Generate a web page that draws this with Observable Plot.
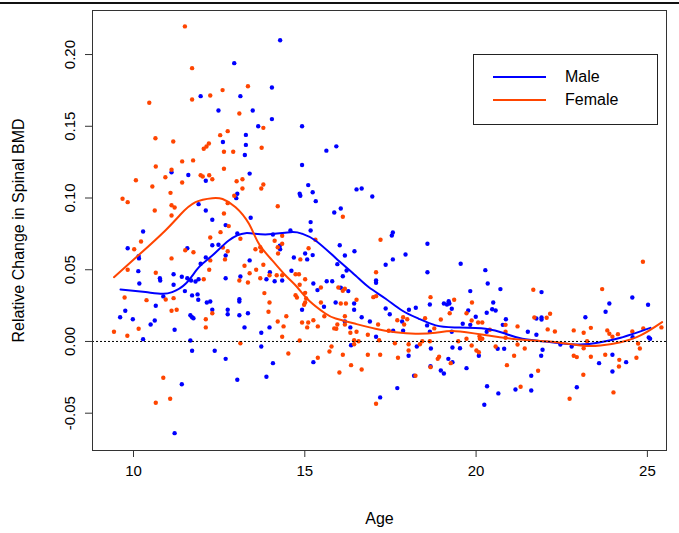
<!DOCTYPE html>
<html>
<head>
<meta charset="utf-8">
<script src="https://cdn.jsdelivr.net/npm/d3@7"></script>
<script src="https://cdn.jsdelivr.net/npm/@observablehq/plot@0.6"></script>
<style>
  html, body { margin: 0; padding: 0; background: #fff; }
  #wrap { position: relative; width: 679px; height: 533px; font-family: "Liberation Sans", Arial, Helvetica, sans-serif; }
  #topline { position: absolute; left: 0; top: 2px; width: 679px; height: 2px; background: #111; }
  #legend { position: absolute; left: 473px; top: 54px; width: 183px; height: 69px; border: 1px solid #222; background: #fff; }
  .lg { position: absolute; left: 0; width: 183px; height: 20px; }
  .lg .ln { position: absolute; left: 19px; top: 9px; width: 53px; height: 2px; }
  .lg .tx { position: absolute; left: 91px; top: 0px; font-size: 16px; line-height: 19px; color: #000; }
</style>
</head>
<body>
<div id="wrap">
  <div id="chart"></div>
  <div id="topline"></div>
  <div id="legend"></div>
</div>
<script>
const xTicks = [10, 15, 20, 25];
const yTicks = [-0.05, 0, 0.05, 0.10, 0.15, 0.20];
const seriesNames = ["Male", "Female"];
const seriesColors = ["#0000ff", "#ff4500"];

const maleAge = [11.96,14.28,12.94,14.04,13.12,12.48,13.48,14.04,13.64,14.92,13.28,12.61,13.28,13.25,15.63,15.92,11.11,11.60,12.11,11.90,12.11,12.30,10.28,9.83,12.30,11.57,10.15,10.16,12.11,11.96,10.14,11.17,11.41,10.77,10.78,11.57,11.68,11.81,11.90,10.17,11.17,11.50,10.87,11.71,11.87,11.89,14.92,13.39,13.00,13.03,15.10,14.85,14.87,15.23,15.32,15.86,13.42,15.17,12.69,13.03,15.17,14.58,14.07,12.48,14.27,14.28,15.01,15.23,12.69,14.68,15.07,13.39,13.98,14.61,13.88,12.69,13.12,14.12,14.34,15.25,15.64,15.80,15.37,13.09,16.51,16.66,16.97,16.05,17.54,17.57,18.58,16.02,16.45,16.17,17.94,17.57,17.36,15.95,16.22,18.58,16.11,17.08,17.08,16.05,16.27,19.20,10.65,9.76,9.61,9.98,10.50,10.62,10.28,11.20,11.66,11.71,11.75,12.14,12.24,12.30,11.66,11.71,12.37,11.41,11.20,13.09,12.75,12.75,13.09,13.34,13.24,13.97,13.73,13.73,12.69,14.07,13.03,13.88,15.56,14.92,15.25,15.90,16.44,16.44,17.36,17.48,18.04,18.24,18.65,19.06,19.15,19.22,19.29,16.17,16.66,16.90,17.84,18.57,16.33,17.58,17.87,17.08,18.65,19.29,16.35,18.03,18.27,18.68,19.31,19.19,19.31,18.67,18.97,19.06,18.19,17.70,17.20,19.55,20.27,20.34,19.83,20.71,21.91,20.50,19.77,20.47,20.57,20.31,21.76,21.91,21.91,20.87,19.99,19.61,19.83,20.78,21.51,20.31,21.76,19.53,20.08,20.63,20.82,21.94,21.90,22.46,19.72,21.61,20.32,21.15,21.61,20.65,20.24,24.56,23.89,25.02,23.78,23.19,24.57,25.08,25.04,22.79,23.98,24.38,23.59,23.98,22.94];
const maleBMD = [0.171,0.210,0.194,0.177,0.171,0.161,0.161,0.155,0.150,0.150,0.144,0.139,0.137,0.130,0.133,0.136,0.118,0.116,0.112,0.0957,0.0913,0.0848,0.0767,0.0650,0.0671,0.0650,0.0595,0.0579,0.0586,0.0542,0.0490,0.0469,0.0451,0.0441,0.0425,0.0441,0.0425,0.0418,0.0434,0.0404,0.0395,0.0351,0.0314,0.0321,0.0328,0.0291,0.123,0.117,0.0999,0.103,0.109,0.103,0.1016,0.104,0.0978,0.0899,0.0862,0.0832,0.0811,0.0753,0.0774,0.0774,0.0746,0.0674,0.0667,0.0643,0.0613,0.0602,0.0599,0.0585,0.0572,0.0565,0.0483,0.0493,0.0434,0.0441,0.0453,0.0420,0.0425,0.0404,0.0420,0.0420,0.0358,0.0295,0.106,0.1066,0.101,0.0927,0.0739,0.0760,0.0681,0.0671,0.0629,0.0599,0.0606,0.0572,0.0535,0.0539,0.0495,0.0483,0.0455,0.0425,0.0409,0.0374,0.0351,0.0281,0.0249,0.0214,0.0169,0.0155,0.0118,0.0146,0.0016,0.0082,0.0183,0.0169,0.0162,0.0272,0.0279,0.0221,0.0007,-0.0065,-0.0065,-0.0298,-0.0639,0.0279,0.0221,0.0190,0.0183,0.0197,0.0098,0.0098,0.0061,-0.0035,-0.0121,-0.0151,-0.0267,-0.0246,0.0242,0.0221,-0.0144,0.0272,0.0265,0.0221,0.0230,0.0190,0.0221,0.0235,0.0258,0.0265,0.0258,0.0265,0.0228,0.0139,0.0169,0.0139,0.0139,0.0112,0.0098,0.0075,0.0075,0.0033,0.0068,0.0068,-0.0026,-0.0100,-0.0035,-0.0049,-0.0042,-0.0121,-0.0144,-0.0172,-0.0202,-0.0223,-0.0239,-0.0325,-0.0390,0.0542,0.0497,0.0404,0.0351,0.0365,0.0344,0.0272,0.0216,0.0225,0.0216,0.0200,0.0160,0.0167,0.0153,0.0155,0.0172,0.0123,0.0116,0.0116,0.0068,0.0068,0.0047,-0.0047,-0.0100,-0.0051,-0.0051,-0.0058,-0.0100,-0.0021,-0.0186,-0.0239,-0.0312,-0.0335,-0.0342,-0.0362,-0.0441,0.0307,0.0265,0.0256,0.0207,0.0169,0.0030,0.0019,0.0028,-0.0035,-0.0093,-0.0144,-0.0151,-0.0209,-0.0319];

const femaleAge = [11.50,11.71,12.24,11.71,10.46,10.64,11.16,12.05,12.13,12.20,12.60,13.34,13.09,13.79,12.75,12.53,13.74,12.64,12.91,10.65,11.11,11.42,11.74,10.93,11.96,12.02,12.21,12.30,10.07,11.42,10.55,11.08,9.68,9.83,11.11,11.20,10.62,11.11,12.24,10.22,10.02,11.51,11.75,11.11,12.24,12.21,9.83,10.65,12.05,9.74,10.38,10.94,11.17,12.64,13.01,13.18,13.18,13.79,13.73,12.94,12.75,14.21,12.64,12.78,12.54,14.34,13.12,14.12,15.31,14.34,12.61,12.75,13.56,13.70,13.73,14.21,14.22,15.11,12.67,14.87,13.79,13.24,13.58,13.39,14.73,14.83,14.18,14.34,13.70,13.97,13.09,13.34,15.01,14.85,15.47,13.82,14.73,15.01,14.77,15.04,16.11,17.21,17.08,15.98,16.11,16.17,17.00,17.08,16.51,18.67,19.36,11.11,11.26,9.43,9.82,10.15,12.30,12.11,12.11,10.87,11.07,10.65,13.97,13.94,14.46,14.21,14.38,14.34,13.12,14.52,14.98,15.01,15.47,15.57,14.92,15.10,15.25,15.38,15.07,15.86,14.85,15.78,15.72,15.38,16.05,16.20,19.23,16.17,15.95,16.17,17.14,17.70,17.87,17.99,17.90,18.51,18.97,18.78,15.92,16.33,16.51,16.57,17.45,16.84,17.17,16.44,16.44,17.63,18.03,18.03,18.36,18.43,18.65,16.11,16.84,17.20,17.72,18.92,18.88,19.26,16.35,16.01,16.66,18.67,18.23,17.08,21.67,19.88,19.72,22.16,21.70,22.06,19.87,20.06,20.18,20.86,21.21,22.09,22.30,20.86,20.40,20.10,20.11,20.18,19.72,20.86,19.48,19.87,20.01,20.08,20.57,21.21,21.42,21.11,20.90,21.81,21.30,24.87,23.68,22.85,23.14,23.35,23.83,23.89,23.98,24.14,24.56,24.88,25.41,23.24,23.14,24.73,24.78,22.85,22.94,23.35,23.77,24.18,24.68,24.17,23.13,24.01,22.73];
const femaleBMD = [0.2196,0.1905,0.1715,0.1687,0.1664,0.1417,0.1394,0.1343,0.1359,0.1380,0.1752,0.1779,0.1589,0.1489,0.1466,0.1438,0.1350,0.1322,0.1322,0.1220,0.1197,0.1255,0.1262,0.1145,0.1159,0.1150,0.1159,0.1131,0.1124,0.1108,0.1080,0.1036,0.0995,0.0971,0.0950,0.0934,0.0913,0.0878,0.0725,0.0697,0.0643,0.0636,0.0622,0.0579,0.0565,0.0500,0.0500,0.0479,0.0434,0.0307,0.0288,0.0293,0.0302,0.1204,0.1117,0.1131,0.1066,0.1094,0.1066,0.1016,0.0964,0.0943,0.0892,0.0804,0.0762,0.0737,0.0716,0.0702,0.0709,0.0681,0.0655,0.0629,0.0643,0.0657,0.0629,0.0657,0.0613,0.0650,0.0572,0.0572,0.0535,0.0528,0.0500,0.0476,0.0469,0.0469,0.0462,0.0462,0.0441,0.0462,0.0425,0.0411,0.0434,0.0395,0.0376,0.0337,0.0323,0.0339,0.0307,0.0300,0.0869,0.0709,0.0483,0.0376,0.0353,0.0367,0.0309,0.0316,0.0291,0.0309,0.0291,0.0214,0.0221,0.0068,0.0040,0.0089,0.0197,0.0155,0.0098,-0.0253,-0.0399,-0.0427,0.0272,0.0207,0.0176,0.0139,0.0105,0.0033,-0.0012,-0.0084,0.0256,0.0272,0.0272,0.0176,0.0132,0.0132,0.0148,0.0105,0.0098,0.0091,0.0007,-0.0035,-0.0070,-0.0114,0.0265,0.0265,0.0197,0.0176,0.0118,0.0118,0.0118,0.0148,0.0169,0.0155,0.0118,0.0162,0.0153,0.0091,0.0089,0.0061,0.0068,0.0002,0.0075,0.0047,0.0009,0.0009,-0.0019,-0.0012,-0.0019,-0.0063,-0.0019,0.0002,0.0002,-0.0093,-0.0093,-0.0093,-0.0114,-0.0107,-0.0121,-0.0151,-0.0165,-0.0216,-0.0195,-0.0179,-0.0239,-0.0434,0.0360,0.0272,0.0197,0.0193,0.0167,0.0165,0.0146,0.0132,0.0132,0.0116,0.0105,0.0084,0.0070,0.0068,0.0082,0.0037,0.0019,0.0019,0.0019,0.0026,0.0002,-0.0028,-0.0063,-0.0075,-0.0035,-0.0021,-0.0049,-0.0100,-0.0165,-0.0204,-0.0316,0.0556,0.0365,0.0077,0.0061,0.0095,0.0077,0.0054,0.0033,0.0051,0.0070,0.0091,0.0098,0.0002,-0.0047,-0.0014,-0.0049,-0.0100,-0.0109,-0.0107,-0.0093,-0.0128,-0.0114,-0.0174,-0.0232,-0.0355,-0.0399];

const maleFitAge = [9.62,10.35,10.84,11.13,11.52,11.91,12.30,12.78,13.27,13.85,14.58,14.92,15.31,15.90,16.48,16.87,17.36,17.84,18.33,18.82,19.37,20.28,20.86,21.35,21.93,22.46,23.05,23.63,24.22,25.09];
const maleFit    = [0.0362,0.0344,0.0332,0.0344,0.0402,0.0518,0.0599,0.0704,0.0755,0.0746,0.0762,0.0751,0.0704,0.0582,0.0460,0.0378,0.0298,0.0216,0.0158,0.0112,0.0098,0.0089,0.0054,0.0019,0.0002,-0.0012,-0.0021,-0.0005,0.0026,0.0095];
const femaleFitAge = [9.43,10.16,10.93,11.37,11.81,12.30,12.60,12.98,13.37,13.66,14.05,14.44,14.78,15.12,15.60,15.90,16.48,17.06,17.65,18.23,18.82,19.40,20.36,21.36,22.32,23.05,23.63,24.22,24.80,25.43];
const femaleFit    = [0.0448,0.0604,0.0774,0.0885,0.0971,0.0999,0.0993,0.0936,0.0820,0.0681,0.0565,0.0460,0.0378,0.0286,0.0195,0.0160,0.0123,0.0089,0.0065,0.0054,0.0061,0.0072,0.0042,0.0012,-0.0005,-0.0028,-0.0028,-0.0005,0.0042,0.0135];

const male = maleAge.map((a, i) => ({age: a, bmd: maleBMD[i]}));
const female = femaleAge.map((a, i) => ({age: a, bmd: femaleBMD[i]}));
const maleCurve = maleFitAge.map((a, i) => ({age: a, bmd: maleFit[i]}));
const femaleCurve = femaleFitAge.map((a, i) => ({age: a, bmd: femaleFit[i]}));

const font = "'Liberation Sans', Arial, Helvetica, sans-serif";
const chart = Plot.plot({
  width: 679,
  height: 533,
  marginLeft: 92,
  marginRight: 13,
  marginTop: 10,
  marginBottom: 83,
  style: {fontFamily: font, fontSize: "15px", background: "transparent", color: "#000"},
  x: {domain: [8.803, 25.558], label: null},
  y: {domain: [-0.076, 0.2307], label: null},
  marks: [
    Plot.dot(male, {x: "age", y: "bmd", r: 2.2, fill: seriesColors[0], stroke: "none"}),
    Plot.dot(female, {x: "age", y: "bmd", r: 2.2, fill: seriesColors[1], stroke: "none"}),
    Plot.line(maleCurve, {x: "age", y: "bmd", stroke: seriesColors[0], strokeWidth: 2, curve: "natural"}),
    Plot.line(femaleCurve, {x: "age", y: "bmd", stroke: seriesColors[1], strokeWidth: 2, curve: "natural"}),
    Plot.ruleY([0], {stroke: "#000", strokeWidth: 1, strokeDasharray: "2,2"}),
    Plot.frame({stroke: "#333", strokeWidth: 1}),
    Plot.axisY({ticks: yTicks, tickSize: 7, tickFormat: () => "", stroke: "#333", label: null}),
    Plot.text(yTicks, {y: d => d, frameAnchor: "left", dx: -22, rotate: -90, textAnchor: "middle", text: d => d.toFixed(2), fontSize: 15, fill: "#000"}),
    Plot.axisX({ticks: xTicks, tickSize: 7, tickPadding: 8, fontSize: 15, stroke: "#333", label: null}),
    Plot.text(["Age"], {frameAnchor: "bottom", dy: 73, textAnchor: "middle", fontSize: 16, fill: "#000"}),
    Plot.text(["Relative Change in Spinal BMD"], {frameAnchor: "left", dx: -74, rotate: -90, textAnchor: "middle", fontSize: 16, fill: "#000"})
  ]
});
document.getElementById("chart").appendChild(chart);

const legend = document.getElementById("legend");
seriesNames.forEach((name, i) => {
  const row = document.createElement("div");
  row.className = "lg";
  row.style.top = (12 + i * 23) + "px";
  row.innerHTML = `<div class="ln" style="background:${seriesColors[i]}"></div><div class="tx">${name}</div>`;
  legend.appendChild(row);
});
</script>
</body>
</html>
